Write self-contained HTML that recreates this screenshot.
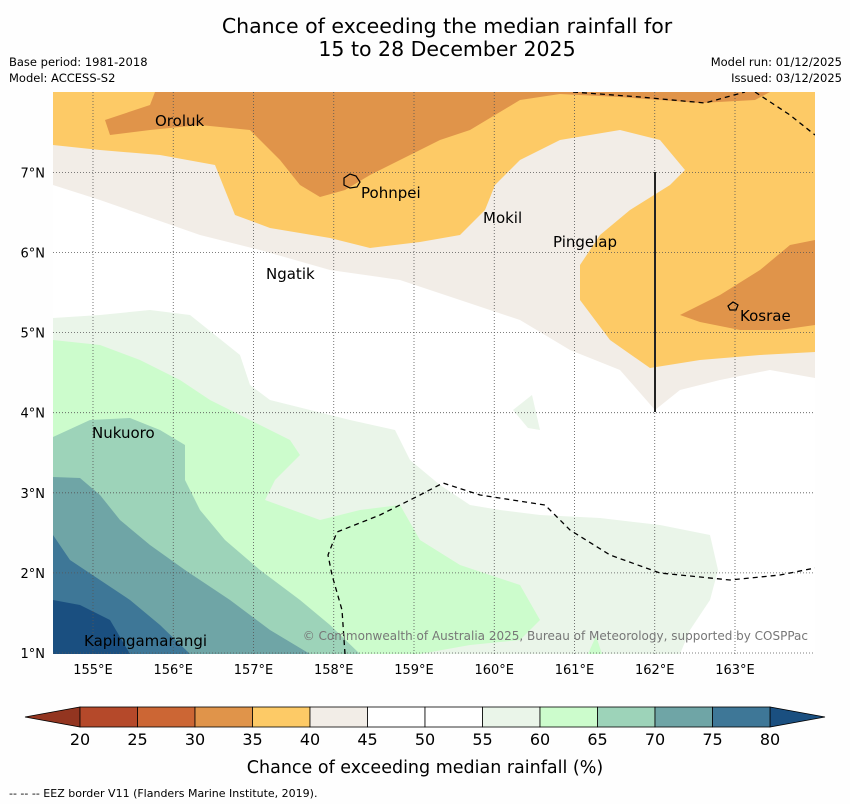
<!DOCTYPE html>
<html><head><meta charset="utf-8">
<style>
body{margin:0;background:#fff;font-family:"Liberation Sans","DejaVu Sans",sans-serif;}
svg text{font-family:"DejaVu Sans","Liberation Sans",sans-serif;}
</style></head>
<body>
<svg width="850" height="804" viewBox="0 0 850 804" xmlns="http://www.w3.org/2000/svg">
<rect width="850" height="804" fill="#fefefe"/>
<text x="447" y="33" font-size="20.5" text-anchor="middle">Chance of exceeding the median rainfall for</text>
<text x="447" y="56" font-size="20.5" text-anchor="middle">15 to 28 December 2025</text>
<text x="9" y="66" font-size="11.5">Base period: 1981-2018</text>
<text x="9" y="82" font-size="11.5">Model: ACCESS-S2</text>
<text x="842" y="66" font-size="11.5" text-anchor="end">Model run: 01/12/2025</text>
<text x="842" y="82" font-size="11.5" text-anchor="end">Issued: 03/12/2025</text>

<defs><clipPath id="mc"><rect x="53" y="92" width="762" height="562"/></clipPath></defs>
<g clip-path="url(#mc)">
<rect x="53" y="92" width="762" height="562" fill="#ffffff"/>
<polygon fill="#f2ede7" points="53,92 815,92 815,378 770,370 720,380 680,390 655,410 620,370 570,350 520,320 460,300 400,280 330,270 260,250 200,235 100,200 53,185"/>
<polygon fill="#fdca66" points="53,92 815,92 815,352 760,355 700,360 650,368 610,340 580,300 580,265 600,235 630,210 670,185 685,170 660,140 620,130 560,140 520,160 495,185 485,210 460,235 420,242 370,248 330,238 270,228 235,215 225,190 215,165 160,155 100,150 53,145"/>
<polygon fill="#e0944a" points="155,92 770,92 755,100 700,103 620,97 560,94 520,100 495,115 470,130 440,140 400,160 370,175 345,190 320,197 300,185 280,160 250,130 200,125 150,130 110,135 105,120 150,105"/>
<polygon fill="#e0944a" points="680,315 720,295 760,270 790,245 815,240 815,325 780,330 740,330 700,322"/>
<polygon fill="#eaf5e9" points="53,318 100,315 150,310 190,315 215,335 240,355 250,385 270,400 310,410 350,420 395,430 410,460 440,485 470,505 500,510 540,515 600,518 660,525 710,535 718,570 710,600 690,630 680,654 53,654"/>
<polygon fill="#eaf5e9" points="513,410 532,395 540,430 528,428"/>
<polygon fill="#ccfccc" points="53,340 100,345 140,360 180,380 210,400 250,420 290,440 300,455 275,480 265,500 320,520 360,510 400,505 420,540 460,565 520,585 540,620 520,640 470,645 420,654 53,654"/>
<polygon fill="#ccfccc" points="588,654 596,636 602,654"/>
<polygon fill="#9dd3b9" points="53,437 90,420 130,418 160,430 185,445 185,480 200,510 225,540 260,570 300,600 330,625 360,654 53,654"/>
<polygon fill="#6fa5a6" points="53,477 80,478 100,495 120,520 150,545 185,570 230,600 270,630 310,654 53,654"/>
<polygon fill="#3e7797" points="53,535 70,560 100,580 130,600 160,625 190,654 53,654"/>
<polygon fill="#1a4f80" points="53,600 80,605 110,620 130,654 53,654"/>
<g id="grid" stroke="#555" stroke-width="0.8" stroke-dasharray="1,2"></g>
<line x1="655" y1="172" x2="655" y2="412" stroke="#222" stroke-width="2"/>
<g fill="none" stroke="#000" stroke-width="1.3" stroke-dasharray="5,4">
<polyline points="573,92 640,97 705,103 745,92"/>
<polyline points="755,92 790,115 815,135"/>
<polyline points="345,654 342,610 332,575 328,555 337,532 380,515 420,495 443,483 480,495 545,505 570,530 610,555 660,573 730,580 780,575 815,568"/>
</g>
<g fill="none" stroke="#000" stroke-width="1.2">
<path d="M344,178 l6,-4 6,2 4,6 -3,5 -7,1 -6,-3z"/>
<path d="M728,306 l5,-4 5,3 -2,5 -6,0z"/>
</g>
<g font-size="15" fill="#000">
<text x="155" y="126">Oroluk</text>
<text x="361" y="198">Pohnpei</text>
<text x="483" y="223">Mokil</text>
<text x="553" y="247">Pingelap</text>
<text x="266" y="279">Ngatik</text>
<text x="740" y="321">Kosrae</text>
<text x="92" y="438">Nukuoro</text>
<text x="84" y="646">Kapingamarangi</text>
</g>
<text x="808" y="640" font-size="12" fill="#777" text-anchor="end">© Commonwealth of Australia 2025, Bureau of Meteorology, supported by COSPPac</text>
</g>
<g id="axes" font-size="13"></g>
<g id="cbar"></g>
<text x="425" y="773" font-size="17.5" text-anchor="middle">Chance of exceeding median rainfall (%)</text>
<text x="9" y="797" font-size="11">--  --  -- EEZ border V11 (Flanders Marine Institute, 2019).</text>
</svg>
<script>
const lonTicks=[155,156,157,158,159,160,161,162,163];
const latTicks=[1,2,3,4,5,6,7];
const levels=[20,25,30,35,40,45,50,55,60,65,70,75,80];
const levelColors=["#b5492a","#cc6634","#e0944a","#fdca66","#f2ede7","#ffffff","#ffffff","#eaf5e9","#ccfccc","#9dd3b9","#6fa5a6","#3e7797"];
const lowColor="#933520", highColor="#1a4f80";
const NS="http://www.w3.org/2000/svg";
const xLon=l=>93+(l-155)*80.25, yLat=l=>653-(l-1)*80.1;
const xCb=v=>80+(v-20)*(690/60);
function mk(t,a,p){const e=document.createElementNS(NS,t);for(const k in a)e.setAttribute(k,a[k]);p.appendChild(e);return e;}
const grid=document.getElementById('grid'),axes=document.getElementById('axes'),cb=document.getElementById('cbar');
lonTicks.forEach(l=>{const x=xLon(l);
 const g=mk('line',{x1:x,y1:92,x2:x,y2:654},grid);
 const t=mk('text',{x:x,y:674,'text-anchor':'middle'},axes);t.textContent=l+'°E';});
latTicks.forEach(l=>{const y=yLat(l);
 const g=mk('line',{x1:53,y1:y,x2:815,y2:y},grid);
 const t=mk('text',{x:45,y:y+5,'text-anchor':'end'},axes);t.textContent=l+'°N';});
const y0=707,h=20;
const lo=mk('polygon',{points:`25,${y0+h/2} ${xCb(20)},${y0} ${xCb(20)},${y0+h}`,fill:lowColor,stroke:'#000','stroke-width':0.8},cb);

const hi=mk('polygon',{points:`825,${y0+h/2} ${xCb(80)},${y0} ${xCb(80)},${y0+h}`,fill:highColor,stroke:'#000','stroke-width':0.8},cb);

levelColors.forEach((c,i)=>{const r=mk('rect',{x:xCb(levels[i]),y:y0,width:xCb(levels[i+1])-xCb(levels[i]),height:h,fill:c,stroke:'#000','stroke-width':0.8},cb);
 });
levels.forEach(v=>{const t=mk('text',{x:xCb(v),y:y0+h+18,'text-anchor':'middle','font-size':16},cb);t.textContent=v;
 });
</script>
</body></html>
